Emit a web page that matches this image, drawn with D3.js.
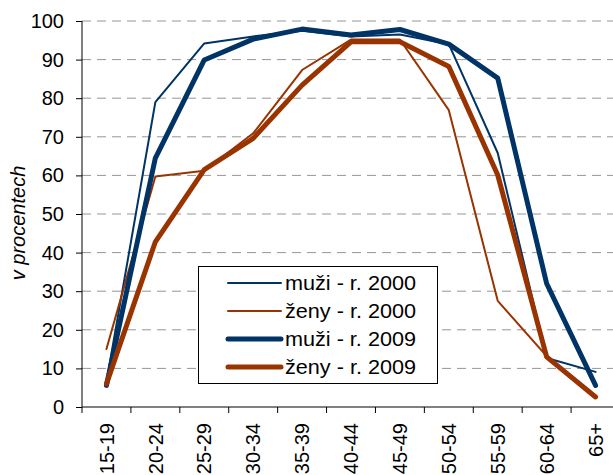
<!DOCTYPE html>
<html>
<head>
<meta charset="utf-8">
<script src="https://cdn.jsdelivr.net/npm/d3@7"></script>
<style>
	body { margin: 0; background: #fff; }
	text { font-family: "Liberation Sans", Arial, sans-serif; fill: #000; }
</style>
</head>
<body>
<div class="canvas"></div>
<script>
const categories = ['15-19', '20-24', '25-29', '30-34', '35-39', '40-44', '45-49', '50-54', '55-59', '60-64', '65+'];
const men2000 = [6.5, 79, 94.2, 96, 97.5, 96, 96.5, 94, 65.8, 12.7, 9.1];
const women2000 = [15, 59.7, 61.2, 70.9, 87.3, 95.2, 95.2, 76.9, 27.5, 13.2, 2.5];
const men2009 = [5.6, 64.5, 89.9, 95.3, 97.9, 96.4, 97.8, 94, 85.2, 32, 5.6];
const women2009 = [6, 42.8, 61.5, 69.6, 83.4, 94.6, 94.6, 88.2, 60.1, 13, 2.6];
const yTicks = [0, 10, 20, 30, 40, 50, 60, 70, 80, 90, 100];
const seriesNames = ['muži - r. 2000', 'ženy - r. 2000', 'muži - r. 2009', 'ženy - r. 2009'];

const series = [
	{name: seriesNames[0], values: men2000, color: '#003366', width: 2},
	{name: seriesNames[1], values: women2000, color: '#993300', width: 2},
	{name: seriesNames[2], values: men2009, color: '#003366', width: 5},
	{name: seriesNames[3], values: women2009, color: '#993300', width: 5}
];

const svg = d3.select('.canvas').append('svg')
	.attr('width', 613)
	.attr('height', 475);

// plot area runs past the right edge, as in the original
const plot = {left: 82, right: 620, top: 21, bottom: 407};

const x = d3.scaleBand()
	.domain(categories)
	.range([plot.left, plot.right]);

const y = d3.scaleLinear()
	.domain([0, 100])
	.range([plot.bottom, plot.top]);

// gridlines
svg.append('g')
	.selectAll('line')
	.data(yTicks.filter(d => d > 0))
	.enter().append('line')
	.attr('x1', plot.left)
	.attr('x2', 613)
	.attr('y1', d => y(d))
	.attr('y2', d => y(d))
	.attr('stroke', '#969696')
	.attr('stroke-width', 1)
	.attr('stroke-dasharray', '9,6');

// y axis
const yAxisGroup = svg.append('g')
	.attr('transform', `translate(${plot.left}, 0)`)
	.call(d3.axisLeft(y).tickValues(yTicks).tickSize(6).tickPadding(12));
yAxisGroup.selectAll('text')
	.style('font-size', '20px');
yAxisGroup.selectAll('line, path').attr('stroke', '#000');
yAxisGroup.select('.domain').attr('d', `M0,${plot.top}V${plot.bottom}`);

// x axis: line, ticks between categories, rotated labels
const xAxisGroup = svg.append('g');
xAxisGroup.append('line')
	.attr('x1', plot.left).attr('x2', 613)
	.attr('y1', plot.bottom).attr('y2', plot.bottom)
	.attr('stroke', '#000');
xAxisGroup.selectAll('.tick')
	.data(categories)
	.enter().append('line')
	.attr('class', 'tick')
	.attr('x1', d => x(d)).attr('x2', d => x(d))
	.attr('y1', plot.bottom).attr('y2', plot.bottom + 6)
	.attr('stroke', '#000');
xAxisGroup.selectAll('text')
	.data(categories)
	.enter().append('text')
	.attr('transform', d => `translate(${x(d) + x.bandwidth() / 2}, 423) rotate(-90)`)
	.attr('text-anchor', 'end')
	.attr('dy', '0.36em')
	.style('font-size', '20px')
	.text(d => d);

// y title
svg.append('text')
	.attr('transform', 'translate(25, 223) rotate(-90)')
	.attr('text-anchor', 'middle')
	.style('font-size', '20px')
	.style('font-style', 'italic')
	.text('v procentech');

// lines
const line = d3.line()
	.x((d, i) => x(categories[i]) + x.bandwidth() / 2)
	.y(d => y(d));

svg.append('g')
	.selectAll('path')
	.data(series)
	.enter().append('path')
	.attr('d', d => line(d.values))
	.attr('fill', 'none')
	.attr('stroke', d => d.color)
	.attr('stroke-width', d => d.width)
	.attr('stroke-linejoin', 'round')
	.attr('stroke-linecap', 'round');

// legend
const legend = svg.append('g');
legend.append('rect')
	.attr('x', 198.5).attr('y', 266.5)
	.attr('width', 239).attr('height', 117)
	.attr('fill', '#fff')
	.attr('stroke', '#000');

const rows = legend.selectAll('g')
	.data(series)
	.enter().append('g')
	.attr('transform', (d, i) => `translate(0, ${283 + i * 28})`);
rows.append('line')
	.attr('x1', 228).attr('x2', 281)
	.attr('stroke', d => d.color)
	.attr('stroke-width', d => d.width)
	.attr('stroke-linecap', 'round');
rows.append('text')
	.attr('x', 285)
	.attr('dy', '0.36em')
	.attr('textLength', 131)
	.attr('lengthAdjust', 'spacingAndGlyphs')
	.style('font-size', '20px')
	.text(d => d.name);
</script>
</body>
</html>
